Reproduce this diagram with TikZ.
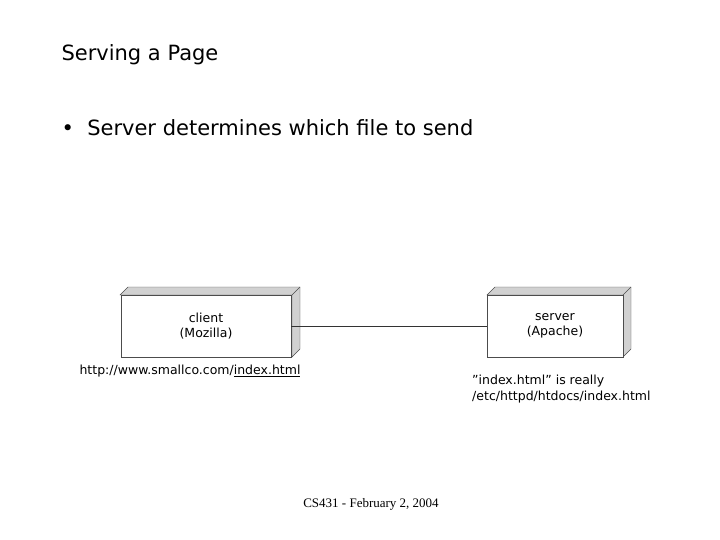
\documentclass[tikz,border=0pt]{standalone}
\usepackage{fontspec}
\setmainfont{DejaVu Sans}
\newfontfamily\footfont{Liberation Serif}
\usetikzlibrary{positioning}
\begin{document}
\begin{tikzpicture}[x=1pt,y=-1pt,
            frontbox/.style={rectangle, draw=black!70, fill=white, minimum width=170pt, minimum height=62pt, align=center, font=\fontsize{12.5}{15}\selectfont},
            side/.style={draw=black!70, fill=black!18},
            wire/.style={thick, black!80}
        ]
            \useasboundingbox (0,0) rectangle (720,540);

% Slide text
            \node[anchor=west, font=\fontsize{21}{25}\selectfont] (title) at (58,55) {Serving a Page};
            \node[anchor=west, font=\fontsize{21}{25}\selectfont] (point) at (58,128) {\textbullet\ \ Server determines which file to send};

% Client node
            \fill[side] (120,295) -- (128,287) -- (300,287) -- (300,349) -- (292,357) -- (292,295) -- cycle;
            \draw[side] (292,295) -- (300,287);
            \node[frontbox] (client) at (206,326) {client\\(Mozilla)};

% Server node
            \fill[side] (487,295) -- (495,287) -- (631,287) -- (631,349) -- (623,357) -- (623,295) -- cycle;
            \draw[side] (623,295) -- (631,287);
            \node[frontbox, minimum width=136pt] (server) at (555,326) {server\\(Apache)};

            \draw[wire] (client) -- (server);

            \node[anchor=west, font=\fontsize{12.5}{15}\selectfont] (url) at (76,371) {http://www.smallco.com/\underline{index.html}};
            \node[anchor=north west, font=\fontsize{12.5}{16}\selectfont, align=left, inner sep=0pt] (really) at (472,375) {\char34 index.html\char34\ is really\\/etc/httpd/htdocs/index.html};

            \node[font=\footfont\fontsize{13}{15}\selectfont] (foot) at (371,504) {CS431 - February 2, 2004};
        \end{tikzpicture}
\end{document}
